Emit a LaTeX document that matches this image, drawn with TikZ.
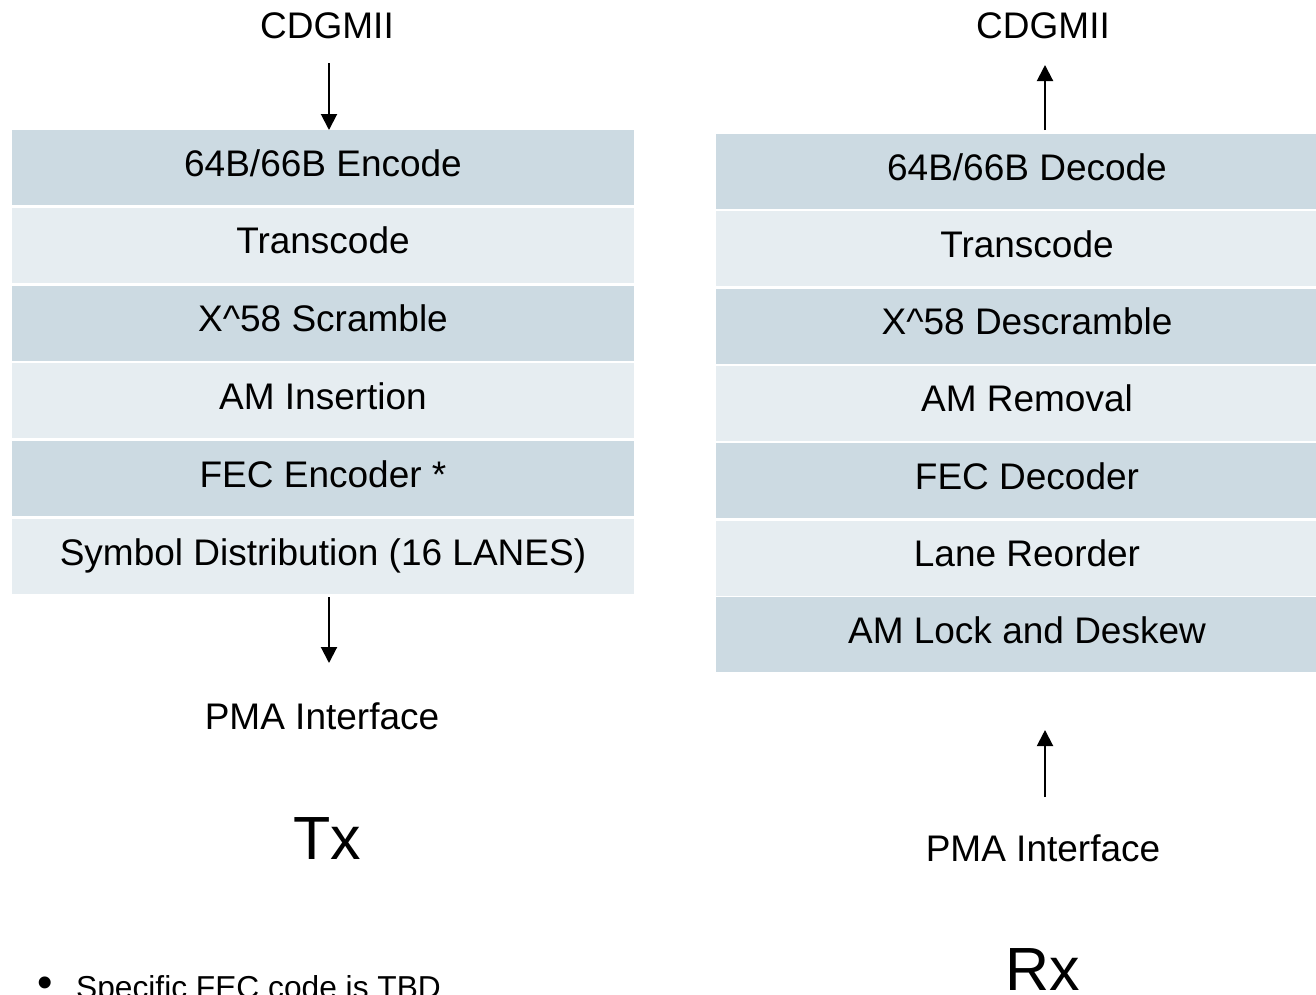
\documentclass[tikz,border=0pt]{standalone}
\usepackage{fontspec}
\setmainfont{Liberation Sans}
\usetikzlibrary{arrows.meta}
\definecolor{rowdark}{RGB}{204,218,226}
\definecolor{rowlight}{RGB}{230,237,241}
\tikzset{
  rowbox/.style={inner sep=0pt, minimum width=622pt, minimum height=75pt,
    text height=27pt, text depth=10pt, font=\fontsize{37}{44}\selectfont},
  dk/.style={rowbox, fill=rowdark},
  lt/.style={rowbox, fill=rowlight},
  lbl/.style={inner sep=0pt, anchor=base, font=\fontsize{37}{44}\selectfont},
  big/.style={inner sep=0pt, anchor=base, font=\fontsize{61}{70}\selectfont},
  flow/.style={line width=2pt, -{Triangle[width=16pt,length=16pt]}}
}
\begin{document}
\begin{tikzpicture}[x=1pt,y=-1pt]
\useasboundingbox (0,0) rectangle (1316,994);
\clip (0,0) rectangle (1316,994);
% Tx stack
\node[dk] (t1) at (323,167.5) {64B/66B Encode};
\node[lt] (t2) at (323,245.3) {Transcode};
\node[dk] (t3) at (323,323.1) {X\^{}58 Scramble};
\node[lt] (t4) at (323,400.9) {AM Insertion};
\node[dk] (t5) at (323,478.7) {FEC Encoder *};
\node[lt] (t6) at (323,556.5) {Symbol Distribution (16 LANES)};
\node[lbl] (tin) at (327,38) {CDGMII};
\node[lbl] (tout) at (322,729) {PMA Interface};
\node[big] (tx) at (327,859) {Tx};
\coordinate (ta) at (329,63);
\coordinate (tb) at (329,130);
\coordinate (tc) at (329,597);
\coordinate (td) at (329,663);
\draw[flow] (ta) -- (tb);
\draw[flow] (tc) -- (td);
% Rx stack
\node[dk] (r1) at (1027,171.5) {64B/66B Decode};
\node[lt] (r2) at (1027,248.8) {Transcode};
\node[dk] (r3) at (1027,326.1) {X\^{}58 Descramble};
\node[lt] (r4) at (1027,403.4) {AM Removal};
\node[dk] (r5) at (1027,480.7) {FEC Decoder};
\node[lt] (r6) at (1027,558.0) {Lane Reorder};
\node[dk] (r7) at (1027,634.5) {AM Lock and Deskew};
\node[lbl] (rout) at (1043,38) {CDGMII};
\node[lbl] (rin) at (1043,861) {PMA Interface};
\node[big] (rx) at (1043,990) {Rx};
\coordinate (ra) at (1045,130);
\coordinate (rb) at (1045,65);
\coordinate (rc) at (1045,797);
\coordinate (rd) at (1045,730);
\draw[flow] (ra) -- (rb);
\draw[flow] (rc) -- (rd);
% note
\node[inner sep=0pt, anchor=base west, font=\fontsize{31.7}{38}\selectfont] (note) at (37,998)
  {\makebox[39pt][l]{\fontsize{44}{44}\selectfont\raisebox{1pt}{•}}Specific FEC code is TBD};
\end{tikzpicture}
\end{document}
